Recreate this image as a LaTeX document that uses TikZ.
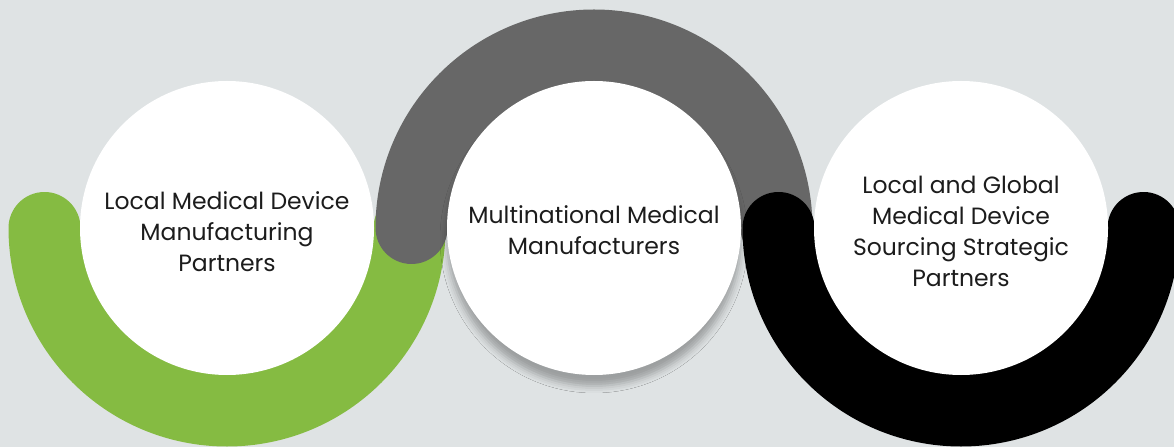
\documentclass[tikz,border=0pt]{standalone}
\usepackage{fontspec}
\setmainfont{Poppins}
\usetikzlibrary{shadows.blur}
\definecolor{backgrey}{RGB}{223,227,228}
\definecolor{leafgreen}{RGB}{133,187,66}
\definecolor{ringgrey}{RGB}{103,103,103}
\definecolor{inktext}{RGB}{28,28,28}

\begin{document}
\begin{tikzpicture}[
        x=1pt, y=1pt,
        disc/.style={
            circle,
            fill=white,
            minimum size=294pt,
            inner sep=0pt
        },
        raised/.style={
            disc,
            blur shadow={shadow xshift=0pt, shadow yshift=-11pt,
                shadow blur radius=7pt, shadow opacity=30}
        },
        caption/.style={
            align=center,
            text=inktext,
            font=\fontsize{23.5}{31}\selectfont
        },
        band/.style={line width=72pt, line cap=round}
    ]
        % Background
        \fill[backgrey] (0,0) rectangle (1174,447);
        \clip (0,0) rectangle (1174,447);

        % Centres
        \coordinate (c1) at (227,219);
        \coordinate (c2) at (594,219);
        \coordinate (c3) at (961,219);

        % Bands
        \draw[band, leafgreen] ([xshift=-182.5pt]c1) arc[start angle=180, end angle=360, radius=182.5pt];
        \draw[band, ringgrey] ([xshift=-182.5pt]c2) arc[start angle=180, end angle=0, radius=182.5pt];
        \draw[band, black] ([xshift=-182.5pt]c3) arc[start angle=180, end angle=360, radius=182.5pt];

        % Circles
        \node[disc] (local) at (c1) {};
        \node[raised] (multi) at (c2) {};
        \node[disc] (sourcing) at (c3) {};

        % Texts
        \node[caption] (localtext) at ([yshift=-3.5pt]local.center) {Local Medical Device\\Manufacturing\\Partners};
        \node[caption] (multitext) at ([yshift=-2.5pt]multi.center) {Multinational Medical\\Manufacturers};
        \node[caption] (sourcingtext) at ([yshift=-3pt]sourcing.center) {Local and Global\\Medical Device\\Sourcing Strategic\\Partners};
    \end{tikzpicture}
\end{document}
